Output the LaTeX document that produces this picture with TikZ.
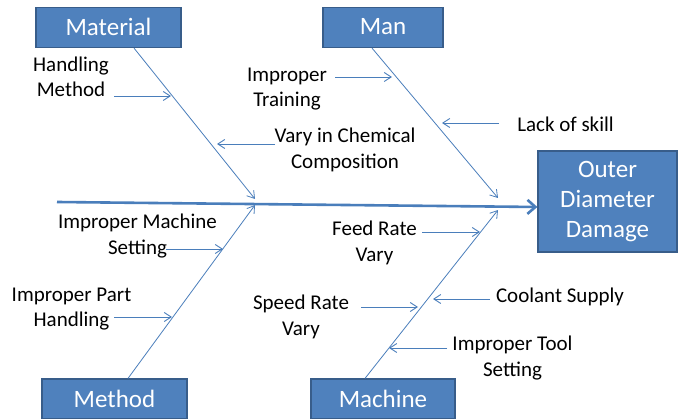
\documentclass[tikz,border=0pt]{standalone}
\usepackage{fontspec}
\setmainfont{Carlito}
\usetikzlibrary{arrows.meta}
\definecolor{boxfill}{HTML}{4F81BD}
\definecolor{boxedge}{HTML}{385D8A}
\definecolor{bonecol}{HTML}{4A7EBB}
\begin{document}
\begin{tikzpicture}[x=1pt,y=-1pt,
  catbox/.style={draw=boxedge, fill=boxfill, line width=1.2pt, text=white,
    font=\fontsize{25}{30}\selectfont, align=center, inner sep=0pt},
  causetext/.style={font=\fontsize{21}{25.5}\selectfont, align=center, inner sep=0pt, text=black},
  bonearrow/.style={draw=bonecol, line width=0.8pt, -{Straight Barb[length=7pt,width=9pt]}},
  causearrow/.style={draw=bonecol, line width=0.9pt, -{Straight Barb[length=7pt,width=9pt]}},
  spinearrow/.style={draw=bonecol, line width=2.6pt, -{Straight Barb[length=8pt,width=14pt]}}
]
\clip (0,0) rectangle (685,419);
\fill[white] (0,0) rectangle (685,419);

% category boxes
\node[catbox, minimum width=145pt, minimum height=40pt] (material) at (108.5,27.5) {\raisebox{2pt}{Material}};
\node[catbox, minimum width=120pt, minimum height=40pt] (man) at (383,27.5) {\raisebox{2pt}{Man}};
\node[catbox, minimum width=145pt, minimum height=40pt] (method) at (114.5,399) {\raisebox{1pt}{Method}};
\node[catbox, minimum width=144pt, minimum height=40pt] (machine) at (383,399) {\raisebox{1pt}{Machine}};
\node[catbox, minimum width=139pt, minimum height=101pt] (outer) at (607.5,201.5) {Outer\\Diameter\\Damage};

% spine
\coordinate (spinestart) at (57,202);
\draw[spinearrow] (spinestart) -- ([yshift=-5.5pt]outer.west);

% bone tips on spine
\coordinate (mattip) at (255,199);
\coordinate (mantip) at (498,198);
\coordinate (methtip) at (255,205);
\coordinate (machtip) at (498,210);

\draw[bonearrow] ([xshift=25.5pt]material.south) -- (mattip);
\draw[bonearrow] ([xshift=-11pt]man.south) -- (mantip);
\draw[bonearrow] ([xshift=13.5pt]method.north) -- (methtip);
\draw[bonearrow] ([xshift=-18pt]machine.north) -- (machtip);

% cause texts
\node[causetext] (handling) at (71,77) {Handling\\Method};
\node[causetext] (training) at (287,89) {Improper\\Training};
\node[causetext] (chem) at (345,150) {Vary in Chemical\\Composition};
\node[causetext] (skill) at (565.5,124) {Lack of skill};
\node[causetext] (machset) at (137.5,236) {Improper Machine\\Setting};
\node[causetext] (part) at (71.5,309) {Improper Part\\Handling};
\node[causetext] (feed) at (374.5,243) {Feed Rate\\Vary};
\node[causetext] (speed) at (301,317) {Speed Rate\\Vary};
\node[causetext] (coolant) at (560,297) {Coolant Supply};
\node[causetext] (tool) at (512.5,358) {Improper Tool\\Setting};

% cause arrow end points on bones
\coordinate (handS) at (114,96);   \coordinate (handE) at (171,96);
\coordinate (trainS) at (335,77);  \coordinate (trainE) at (392,77);
\coordinate (chemS) at (275,144);  \coordinate (chemE) at (217,144);
\coordinate (skillS) at (499,123); \coordinate (skillE) at (442,123);
\coordinate (msetS) at (166,249);  \coordinate (msetE) at (223,249);
\coordinate (partS) at (114,317);  \coordinate (partE) at (172,317);
\coordinate (feedS) at (422,232);  \coordinate (feedE) at (480,232);
\coordinate (speedS) at (361,307); \coordinate (speedE) at (418,307);
\coordinate (coolS) at (490,299);  \coordinate (coolE) at (433,299);
\coordinate (toolS) at (447,348);  \coordinate (toolE) at (389,348);

\draw[causearrow] (handS) -- (handE);
\draw[causearrow] (trainS) -- (trainE);
\draw[causearrow] (chemS) -- (chemE);
\draw[causearrow] (skillS) -- (skillE);
\draw[causearrow] (msetS) -- (msetE);
\draw[causearrow] (partS) -- (partE);
\draw[causearrow] (feedS) -- (feedE);
\draw[causearrow] (speedS) -- (speedE);
\draw[causearrow] (coolS) -- (coolE);
\draw[causearrow] (toolS) -- (toolE);
\end{tikzpicture}
\end{document}
